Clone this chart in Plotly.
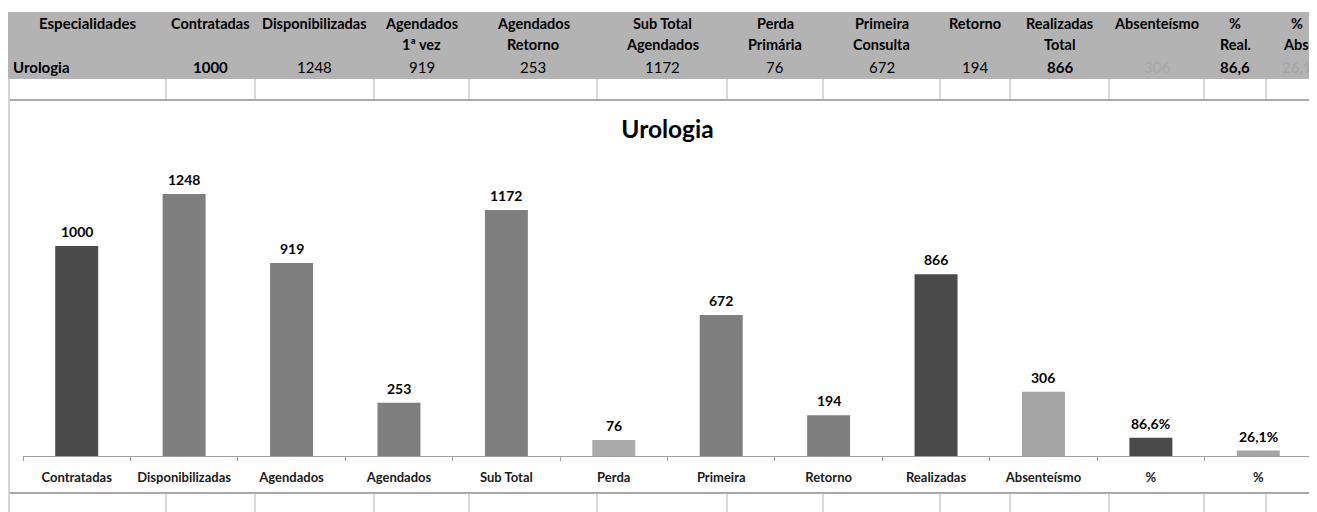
import plotly.graph_objects as go

# ── Data ──────────────────────────────────────────────────────────────────────
specialty = "Urologia"
categories = [
    "Contratadas", "Disponibilizadas", "Agendados 1ª vez", "Agendados Retorno",
    "Sub Total Agendados", "Perda Primária", "Primeira Consulta", "Retorno",
    "Realizadas Total", "Absenteísmo", "% Real.", "% Abs.",
]
tick_labels = [
    "Contratadas", "Disponibilizadas", "Agendados", "Agendados", "Sub Total",
    "Perda", "Primeira", "Retorno", "Realizadas", "Absenteísmo", "%", "%",
]
header_second_line = [
    "", "", "1ª vez", "Retorno", "Agendados", "Primária", "Consulta", "",
    "Total", "", "Real.", "Abs.",
]
values = [1000, 1248, 919, 253, 1172, 76, 672, 194, 866, 306, 86.6, 26.1]
is_percent = [False] * 10 + [True, True]

# ── Styles ────────────────────────────────────────────────────────────────────
DARK, MID, LIGHT = "#4a4a4a", "#7f7f7f", "#a5a5a5"
bar_colors = [DARK, MID, MID, MID, MID, "#ababab", MID, MID, DARK, LIGHT, DARK, LIGHT]
cell_bold = [True, False, False, False, False, False, False, False, True, False, True, True]
cell_color = ["#000000"] * 9 + ["#a6a6a6", "#000000", "#a6a6a6"]

FONT = "Lato, Calibri, sans-serif"
PAGE_W, PAGE_H = 1317, 512
BODY = 8                          # default <body> margin of the written page
W, H = PAGE_W - BODY, PAGE_H - BODY
# plot area in screen pixels
PLOT_L, PLOT_R, PLOT_T, PLOT_B = 23, 1312, 141, 456

# table column boundaries (screen pixels)
col_edges = [8, 166, 255, 374, 469, 597, 727, 823, 940, 1010, 1109, 1204, 1266, 1328]


def px(x):
    return (x - PLOT_L) / (PLOT_R - PLOT_L)


def py(y):
    return (PLOT_B - y) / (PLOT_B - PLOT_T)


def fmt(v, pct):
    return f"{v:.1f}".replace(".", ",") if pct else f"{int(v)}"


def cell(x, y, text, size=14.5, color="#000000", bold=True, anchor="center"):
    return dict(
        x=px(x), y=py(y), xref="paper", yref="paper", text=text, showarrow=False,
        xanchor=anchor, yanchor="middle",
        font=dict(family=FONT, size=size, color=color, weight="bold" if bold else "normal"),
    )


fig = go.Figure(go.Bar(
    x=categories,
    y=values,
    marker=dict(color=bar_colors, line=dict(width=0)),
    width=0.4,
    hoverinfo="x+y",
))

annotations = []
# value labels above bars
for cat, v, pct in zip(categories, values, is_percent):
    annotations.append(dict(
        x=cat, y=v, xref="x", yref="y", text=fmt(v, pct) + ("%" if pct else ""),
        showarrow=False, xanchor="center", yanchor="bottom", yshift=4,
        font=dict(family=FONT, size=14, color="#000000", weight="bold"),
    ))

# table header / value row
centers = [(a + b) / 2 for a, b in zip(col_edges[:-1], col_edges[1:])]
annotations.append(cell(centers[0], 23, "Especialidades", size=15))
annotations.append(cell(11, 67, specialty, size=15, anchor="left"))
for i, (top, bottom, v, pct) in enumerate(zip(tick_labels, header_second_line, values, is_percent)):
    cx = centers[i + 1]
    annotations.append(cell(cx, 23, top))
    if bottom:
        annotations.append(cell(cx, 44.5, bottom))
    annotations.append(cell(cx, 67, fmt(v, pct), size=15, color=cell_color[i], bold=cell_bold[i]))

shapes = [
    # grey header band
    dict(type="rect", xref="paper", yref="paper", x0=px(8), x1=px(PAGE_W + 5),
         y0=py(12), y1=py(79), fillcolor="#b3b3b3", line=dict(width=0), layer="below"),
    # chart frame lines
    dict(type="line", xref="paper", yref="paper", x0=px(8), x1=px(PAGE_W + 5),
         y0=py(100), y1=py(100), line=dict(color="#a9a9a9", width=2)),
    dict(type="line", xref="paper", yref="paper", x0=px(8), x1=px(PAGE_W + 5),
         y0=py(493), y1=py(493), line=dict(color="#a9a9a9", width=2)),
    dict(type="line", xref="paper", yref="paper", x0=px(9), x1=px(9),
         y0=py(79), y1=py(PAGE_H + 5), line=dict(color="#d4d4d4", width=2)),
]
for e in col_edges[1:-1]:
    for y0, y1 in ((79, 99), (494, PAGE_H + 5)):
        shapes.append(dict(type="line", xref="paper", yref="paper", x0=px(e), x1=px(e),
                           y0=py(y0), y1=py(y1), line=dict(color="#d9d9d9", width=2)))

fig.update_layout(
    width=W, height=H,
    margin=dict(l=PLOT_L - BODY, r=PAGE_W - PLOT_R, t=PLOT_T - BODY, b=PAGE_H - PLOT_B,
                autoexpand=False),
    paper_bgcolor="white", plot_bgcolor="white",
    showlegend=False,
    title=dict(text=specialty, x=px(667.5), xref="paper", y=1 - (129 - BODY) / H,
               yanchor="middle", xanchor="center",
               font=dict(family=FONT, size=24.5, color="#000", weight="bold")),
    xaxis=dict(
        tickvals=categories, ticktext=tick_labels, tickson="boundaries",
        ticks="outside", ticklen=4, tickcolor="#a0a0a0", showline=True,
        linecolor="#a0a0a0", linewidth=1, showgrid=False, ticklabelstandoff=9,
        tickfont=dict(family=FONT, size=13, color="#1a1a1a", weight="bold"),
        fixedrange=True,
    ),
    yaxis=dict(visible=False, range=[0, 1500], fixedrange=True),
    annotations=annotations,
    shapes=shapes,
)

fig.write_html("out.html")
